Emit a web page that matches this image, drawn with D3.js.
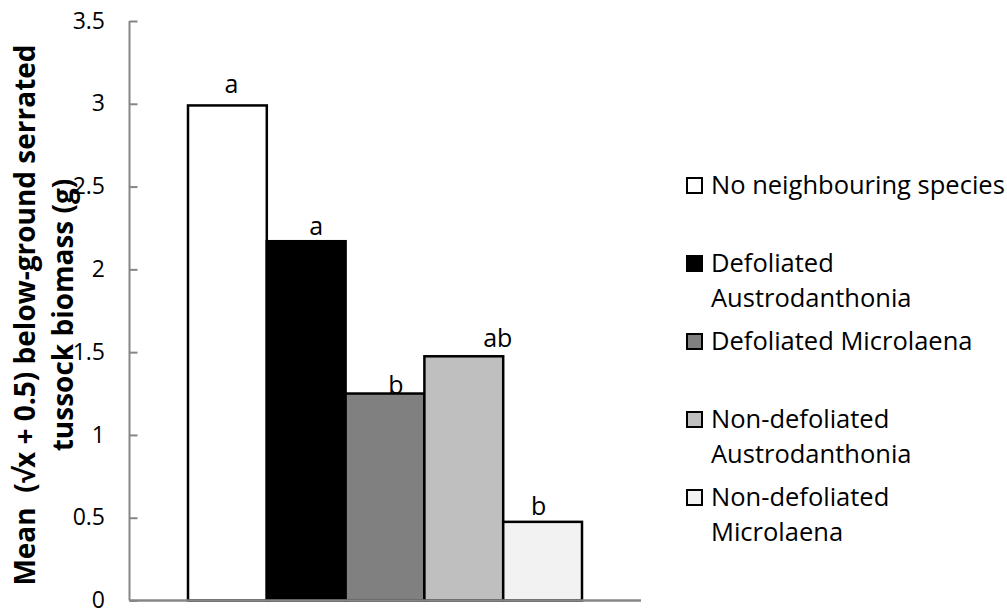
<!DOCTYPE html>
<html>
<head>
<meta charset="utf-8">
<script src="https://cdn.jsdelivr.net/npm/d3@7"></script>
<style>
	body { margin: 0; background: #fff; }
	text { font-family: "Open Sans", Lato, sans-serif; fill: #000; white-space: pre; }
</style>
</head>
<body>
<svg id="chart" width="1007" height="610"></svg>
<script>
var treatments = ["No neighbouring species", "Defoliated Austrodanthonia", "Defoliated Microlaena",
	"Non-defoliated Austrodanthonia", "Non-defoliated Microlaena"];
var legendLines = [["No neighbouring species"], ["Defoliated", "Austrodanthonia"], ["Defoliated Microlaena"],
	["Non-defoliated", "Austrodanthonia"], ["Non-defoliated", "Microlaena"]];
var meanBiomass = [2.99, 2.17, 1.25, 1.475, 0.475];
var groupLetters = ["a", "a", "b", "ab", "b"];
var yTicks = [0, 0.5, 1, 1.5, 2, 2.5, 3, 3.5];
var fills = ["#ffffff", "#000000", "#808080", "#bfbfbf", "#f2f2f2"];

var svg = d3.select("#chart");

var plot = {left: 129.5, right: 641, top: 21, bottom: 600.5};

var y = d3.scaleLinear()
	.domain([0, 3.5])
	.range([plot.bottom, plot.top]);

// bars sit in the middle of the axis with an even gap both sides
var x = d3.scaleBand()
	.domain(treatments)
	.range([188, 582])
	.padding(0);

// letters were nudged by hand in the original
var letterNudge = [[4, -12], [10, -6], [11, 0], [34, -9], [-4, -7]];

svg.selectAll(".bar")
	.data(treatments)
	.enter()
	.append("rect")
	.attr("class", "bar")
	.attr("x", function(d) { return x(d); })
	.attr("y", function(d, i) { return y(meanBiomass[i]); })
	.attr("width", x.bandwidth())
	.attr("height", function(d, i) { return y(0) - y(meanBiomass[i]); })
	.style("fill", function(d, i) { return fills[i]; })
	.style("stroke", "#000")
	.style("stroke-width", 2.5);

svg.selectAll(".letter")
	.data(treatments)
	.enter()
	.append("text")
	.attr("class", "letter")
	.attr("x", function(d, i) { return x(d) + x.bandwidth()/2 + letterNudge[i][0]; })
	.attr("y", function(d, i) { return y(meanBiomass[i]) + letterNudge[i][1]; })
	.attr("text-anchor", "middle")
	.style("font-size", "25px")
	.text(function(d, i) { return groupLetters[i]; });

// axes
var yAxis = d3.axisRight(y)
	.tickValues(yTicks)
	.tickSize(8)
	.tickFormat("");

var gy = svg.append("g")
	.attr("transform", "translate(" + plot.left + ",0)")
	.call(yAxis);
gy.select(".domain").remove();
gy.selectAll("line").style("stroke", "#868686").style("stroke-width", 2);

svg.append("line")
	.attr("x1", plot.left).attr("x2", plot.left)
	.attr("y1", y(3.5)).attr("y2", y(0))
	.style("stroke", "#868686")
	.style("stroke-width", 2);

svg.append("line")
	.attr("x1", plot.left).attr("x2", plot.right)
	.attr("y1", y(0)).attr("y2", y(0))
	.style("stroke", "#868686")
	.style("stroke-width", 2.5);

svg.selectAll(".ytick")
	.data(yTicks)
	.enter()
	.append("text")
	.attr("class", "ytick")
	.attr("x", 105)
	.attr("y", function(d) { return y(d); })
	.attr("dy", "0.33em")
	.attr("text-anchor", "end")
	.style("font-size", "23px")
	.text(function(d) { return d; });

// y title, two lines
var title = svg.append("text")
	.attr("transform", "translate(0,315) rotate(-90)")
	.attr("text-anchor", "middle")
	.style("font-size", "28px")
	.style("font-weight", "bold");
title.append("tspan").attr("x", 0).attr("y", 35).text("Mean  (\u221Ax + 0.5) below-ground serrated");
title.append("tspan").attr("x", 0).attr("y", 73).text("tussock biomass (g)");

// legend
var legend = svg.selectAll(".legend")
	.data(treatments)
	.enter()
	.append("g")
	.attr("class", "legend")
	.attr("transform", function(d, i) { return "translate(686," + (177 + i*78) + ")"; });

legend.append("rect")
	.attr("x", 1)
	.attr("y", 1)
	.attr("width", 15)
	.attr("height", 15)
	.style("fill", function(d, i) { return fills[i]; })
	.style("stroke", "#000")
	.style("stroke-width", 2);

legend.each(function(d, i) {
	var t = d3.select(this).append("text")
		.attr("x", 25)
		.attr("y", 17)
		.style("font-size", "25.5px");
	legendLines[i].forEach(function(line, j) {
		t.append("tspan").attr("x", 25).attr("y", 17 + j*35).text(line);
	});
});
</script>
</body>
</html>
